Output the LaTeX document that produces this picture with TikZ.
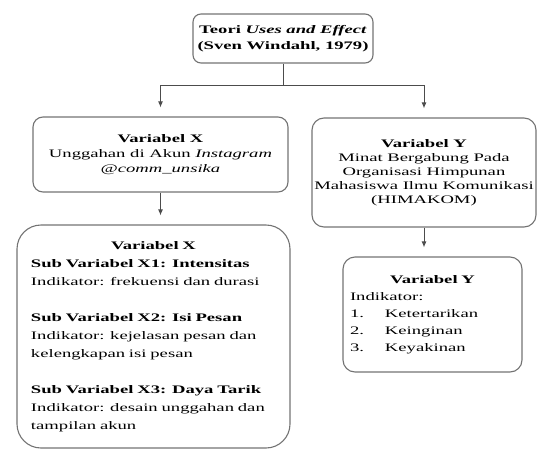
\documentclass[tikz,border=0pt]{standalone}
\usepackage{fontspec}
\setmainfont{Liberation Serif}[FakeStretch=1.62]
\usetikzlibrary{arrows.meta}

\tikzset{
  varbox/.style={draw=black!55, line width=1.1pt, rounded corners=10pt, align=center, inner sep=0pt},
  link/.style={draw=black!70, line width=1pt},
  linkarrow/.style={link, -{Latex[length=6pt,width=5pt]}, shorten >=9pt},
}

\begin{document}
\begin{tikzpicture}[x=1pt,y=-1pt]
\useasboundingbox (0,0) rectangle (538,450);
% teori dasar
\node[varbox, rounded corners=8pt, minimum width=180pt, minimum height=49pt,
  font=\fontsize{11.5}{16}\selectfont] (teori) at (283,38.5)
  {\textbf{Teori \textit{Uses and Effect}}\\ \textbf{(Sven Windahl, 1979)}};
% variabel X
\node[varbox, minimum width=255pt, minimum height=75pt,
  font=\fontsize{11.5}{15}\selectfont] (varX) at (160.5,154.5)
  {\textbf{Variabel X}\\ Unggahan di Akun \textit{Instagram}\\ \textit{@comm\_unsika}};
\node[varbox, rounded corners=24pt, text width=245pt, inner xsep=14pt, minimum height=223pt,
  align=left, font=\fontsize{11.5}{18}\selectfont] (subX) at (153.5,336.5)
  {{\centering\textbf{Variabel X}\par}
   \textbf{Sub Variabel X1: Intensitas}\\
   Indikator: frekuensi dan durasi\\[18pt]
   \textbf{Sub Variabel X2: Isi Pesan}\\
   Indikator: kejelasan pesan dan\\ kelengkapan isi pesan\\[18pt]
   \textbf{Sub Variabel X3: Daya Tarik}\\
   Indikator: desain unggahan dan\\ tampilan akun};
% variabel Y
\node[varbox, rounded corners=12pt, minimum width=224pt, minimum height=109pt,
  font=\fontsize{11.5}{14}\selectfont] (varY) at (424,172.5)
  {\textbf{Variabel Y}\\ Minat Bergabung Pada\\ Organisasi Himpunan\\
   Mahasiswa Ilmu Komunikasi\\ (HIMAKOM)};
\node[varbox, rounded corners=12pt, text width=165pt, inner xsep=7pt, minimum height=115pt,
  align=left, font=\fontsize{11.5}{17}\selectfont] (subY) at (432.5,314.5)
  {{\centering\textbf{Variabel Y}\par}
   Indikator:\\
   \makebox[35pt][l]{1.}Ketertarikan\\
   \makebox[35pt][l]{2.}Keinginan\\
   \makebox[35pt][l]{3.}Keyakinan};
% penghubung
\draw[link] (teori.south) -- ++(0,22) coordinate (cabang);
\draw[linkarrow] (cabang) -| (varX.north);
\draw[linkarrow] (cabang) -| (varY.north);
\draw[linkarrow] (varX.south) -- (varX.south |- subX.north);
\draw[linkarrow] (varY.south) -- (varY.south |- subY.north);
\end{tikzpicture}
\end{document}
